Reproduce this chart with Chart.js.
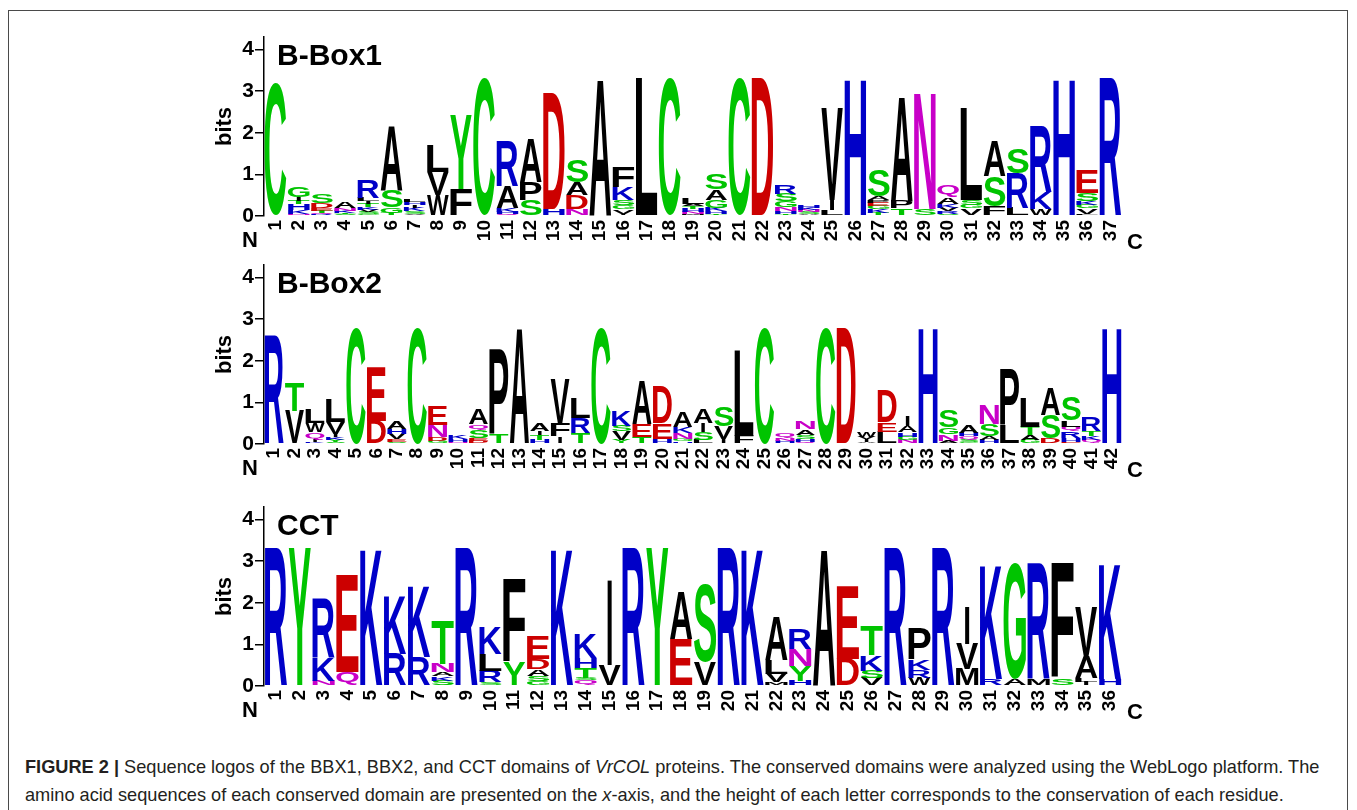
<!DOCTYPE html>
<html>
<head>
<meta charset="utf-8">
<script src="https://cdn.jsdelivr.net/npm/chart.js@4.4.1/dist/chart.umd.min.js"></script>
<style>
    body { margin: 0; background: #fff; width: 1357px; height: 810px; overflow: hidden; position: relative; font-family: "Liberation Sans", Arial, sans-serif; }
    .frame { position: absolute; left: 8px; top: 10px; width: 1338px; height: 900px; border: 1.5px solid #4a4a4a; }
    .panel { position: absolute; left: 210px; }
    .caption { position: absolute; left: 25px; top: 753px; font-size: 18.2px; line-height: 28px; color: #231f20; white-space: nowrap; }
    .caption b { font-weight: bold; }
</style>
</head>
<body>
<div class="frame"></div>
<div class="panel" style="top:20px"><canvas id="box1Chart" width="970" height="236"></canvas></div>
<div class="panel" style="top:248px"><canvas id="box2Chart" width="970" height="236"></canvas></div>
<div class="panel" style="top:490px"><canvas id="cctChart" width="970" height="236"></canvas></div>
<div class="caption">
    <b>FIGURE 2 |</b> Sequence logos of the BBX1, BBX2, and CCT domains of <i>VrCOL</i> proteins. The conserved domains were analyzed using the WebLogo platform. The<br>
    amino acid sequences of each conserved domain are presented on the <i>x</i>-axis, and the height of each letter corresponds to the conservation of each residue.
</div>
<script>
// stack tiap posisi: huruf + tinggi (bits), dari bawah ke atas
const box1Stacks = [
    'C3.2', 'N.06 K.08 H.14 T.08 I.1 G.26', 'R.04 Q.04 T.05 E.06 D.12 S.22', 'S.04 T.04 K.05 N.06 A.14',
    'G.04 S.05 V.06 K.06 T.08 I.06 L.08 R.42', 'T.08 G.12 S.42 A1.55', 'V.05 S.07 K.08 I.06 H.07 L.07',
    'W.5 V.55 L.65', 'F.65 Y1.78', 'C3.3', 'Q.04 H.06 K.1 A.52 R1.08', 'S.38 P.44 A1.06', 'H.17 D2.8',
    'N.18 D.32 A.32 S.54', 'A3.3', 'I.06 V.1 G.1 S.12 K.3 F.5', 'L3.3', 'C3.3', 'M.04 N.06 H.08 T.06 A.06 L.14',
    'T.06 H.06 K.08 G.18 A.26 S.38', 'C3.3', 'D3.3', 'T.05 H.06 N.1 G.14 S.18 R.2', 'A.04 S.05 N.05 K.06 H.06',
    'L.14 I.24 V2.22', 'H3.3', 'T.08 K.08 G.08 E.08 P.06 A.08 S.62', 'T.18 P.18 A2.54', 'S.18 N2.8',
    'S.05 R.07 V.08 K.1 A.16 Q.26', 'V.18 G.08 S.12 L2.2', 'F.24 S.72 A.84', 'L.2 R.82 S.6', 'W.18 K.4 R1.6',
    'H3.3', 'L.06 V.12 G.08 K.1 S.2 E.54', 'R3.3'
]
const box2Stacks = [
    'R2.6', 'V.8 T.68', 'K.05 I.07 Q.16 W.22 L.34', 'S.04 Y.06 K.06 I.08 V.28 L.56', 'C2.8', 'D.56 E1.3',
    'S.05 E.06 V.14 H.12 A.18', 'C2.8', 'G.08 D.1 N.28 E.46', 'N.05 H.06 K.1', 'D.07 E.07 S.2 Q.13 A.37',
    'T.22 P2.05', 'A2.8', 'H.1 T.12 I.1 A.18', 'I.18 F.3 V1.06', 'T.26 R.37 L.5', 'C2.8', 'Y.1 V.2 S.14 K.38',
    'T.18 E.3 A1.06', 'H.12 E.38 D.88', 'H.06 G.05 N.16 K.14 A.38', 'L.1 S.2 I.2 A.34', 'I.12 V.3 S.46',
    'F.2 L2.07', 'C2.8', 'H.08 N.07 Q.12', 'Q.06 H.06 S.1 A.13 N.18', 'C2.8', 'D2.8', 'A.05 I.06 V.06 W.12',
    'L.3 E.22 D.78', 'N.1 G.08 H.1 A.16 I.24', 'H2.8', 'A.08 N.16 G.16 S.42', 'G.05 S.06 Q.08 H.08 A.18',
    'H.1 A.1 S.28 N.46', 'L.45 P1.34', 'G.1 A.12 T.2 L.7', 'D.14 S.56 A.66', 'E.06 H.08 R.16 Q.12 L.16 S.58',
    'Q.1 K.1 T.12 R.34', 'H2.8'
]
const cctStacks = [
    'R3.3', 'Y3.3', 'N.13 K.56 R1.42', 'Q.33 E2.35', 'K3.3', 'R.77 K1.4', 'R.7 K1.7', 'S.13 K.1 A.1 N.2 T1.05',
    'R3.3', 'S.09 R.28 L.4 K.65', 'Y.56 F2.0', 'G.12 S.13 A.16 D.24 E.56', 'K3.3', 'Q.14 S.05 T.24 H.25 K.6',
    'V.5 I2.06', 'R3.3', 'Y3.3', 'E1.12 A1.16', 'V.57 S1.88', 'R3.3', 'K3.3', 'M.09 V.2 L.34 A1.05',
    'H.13 Y.36 N.4 R.48', 'A3.3', 'D.65 E1.75', 'V.19 S.18 K.37 T.7', 'R3.3', 'W.2 R.18 K.25 P.73', 'R3.3',
    'M.41 V.6 I.9', 'R.17 K2.76', 'A.17 G2.78', 'M.17 R2.78', 'S.17 F2.78', 'I.1 L.1 A.52 V1.18', 'H.17 K2.78'
]
const panelTitles = ['B-Box1', 'B-Box2', 'CCT']
const yTicks = [0, 1, 2, 3, 4]

// warna skema "chemistry" WebLogo
const letterColors = {
    G: '#00c400', S: '#00c400', T: '#00c400', Y: '#00c400', C: '#00c400',
    N: '#c800c8', Q: '#c800c8',
    K: '#0000c8', R: '#0000c8', H: '#0000c8',
    D: '#cc0000', E: '#cc0000'
}
const LOGO_FONT = '"Liberation Sans", Arial, sans-serif'

function parseStack(s) {
    return s.split(' ').map((t) => ({ ch: t[0], h: parseFloat(t.slice(1)) }))
}

function buildDatasets(stacks) {
    const parsed = stacks.map(parseStack)
    const layers = Math.max(...parsed.map((p) => p.length))
    const sets = []
    for (let k = 0; k < layers; k++) {
        sets.push({
            data: parsed.map((p) => (p[k] ? p[k].h : 0)),
            letters: parsed.map((p) => (p[k] ? p[k].ch : '')),
            backgroundColor: 'rgba(0,0,0,0)',
            borderWidth: 0,
            categoryPercentage: 1,
            barPercentage: 0.94
        })
    }
    return sets
}

function drawLetter(ctx, ch, x0, yTop, w, h) {
    ctx.save()
    ctx.font = 'bold 100px ' + LOGO_FONT
    const m = ctx.measureText(ch)
    const gl = m.actualBoundingBoxLeft
    const gw = gl + m.actualBoundingBoxRight
    const ga = m.actualBoundingBoxAscent
    const gh = ga + m.actualBoundingBoxDescent
    let ww = w
    let xx = x0
    if (ch === 'I') {
        ww = w * 0.2
        xx = x0 + (w - ww) / 2
    }
    ctx.translate(xx, yTop)
    ctx.scale(ww / gw, h / gh)
    ctx.fillStyle = letterColors[ch] || '#000'
    ctx.textAlign = 'left'
    ctx.textBaseline = 'alphabetic'
    ctx.fillText(ch, gl, ga)
    ctx.restore()
}

// plugin: huruf logo + judul panel + label N / C
const logoPlugin = {
    id: 'logoLetters',
    afterDatasetsDraw(chart) {
        const ctx = chart.ctx
        chart.data.datasets.forEach((ds, i) => {
            chart.getDatasetMeta(i).data.forEach((bar, j) => {
                const ch = ds.letters[j]
                if (!ch) return
                const { x, y, base, width } = bar.getProps(['x', 'y', 'base', 'width'], true)
                const h = base - y
                if (h < 0.4) return
                drawLetter(ctx, ch, x - width / 2, y, width, h)
            })
        })
    },
    afterDraw(chart, args, opts) {
        const ctx = chart.ctx
        const a = chart.chartArea
        ctx.save()
        ctx.fillStyle = '#000'
        ctx.font = 'bold 30px ' + LOGO_FONT
        ctx.textBaseline = 'top'
        ctx.textAlign = 'left'
        ctx.fillText(opts.title, a.left + 13, a.top + 5)
        ctx.font = 'bold 22px ' + LOGO_FONT
        ctx.textAlign = 'center'
        ctx.textBaseline = 'middle'
        ctx.fillText('N', a.left - 14, a.bottom + 25)
        ctx.fillText('C', a.right + 13, a.bottom + 27)
        ctx.restore()
    }
}

function makeLogo(id, stacks, title) {
    const el = document.getElementById(id)
    if (!el) return null
    return new Chart(el, {
        type: 'bar',
        data: {
            labels: stacks.map((_, i) => String(i + 1)),
            datasets: buildDatasets(stacks)
        },
        plugins: [logoPlugin],
        options: {
            responsive: false,
            animation: false,
            layout: { padding: { top: 17, right: 58, left: 0, bottom: 0 } },
            plugins: {
                legend: { display: false },
                tooltip: { enabled: false },
                logoLetters: { title: title }
            },
            scales: {
                x: {
                    stacked: true,
                    grid: { display: false, drawTicks: false },
                    border: { display: false },
                    ticks: {
                        autoSkip: false,
                        minRotation: 90,
                        maxRotation: 90,
                        padding: 4,
                        color: '#000',
                        font: { family: LOGO_FONT, size: 19, weight: 'bold' }
                    },
                    afterFit: (s) => { s.height = 40 }
                },
                y: {
                    stacked: true,
                    min: 0,
                    max: 4.3,
                    afterBuildTicks: (s) => {
                        s.ticks = yTicks.map((v) => ({ value: v }))
                    },
                    afterFit: (s) => { s.width = 54 },
                    grid: { drawOnChartArea: false, drawTicks: true, tickLength: 9, color: '#000', lineWidth: 1.5 },
                    border: { display: true, color: '#000', width: 1.5 },
                    ticks: {
                        padding: 1,
                        color: '#000',
                        font: { family: LOGO_FONT, size: 21, weight: 'bold' }
                    },
                    title: {
                        display: true,
                        text: 'bits',
                        color: '#000',
                        padding: { top: 2, bottom: 0 },
                        font: { family: LOGO_FONT, size: 22, weight: 'bold' }
                    }
                }
            }
        }
    })
}

document.addEventListener('DOMContentLoaded', () => {
    makeLogo('box1Chart', box1Stacks, panelTitles[0])
    makeLogo('box2Chart', box2Stacks, panelTitles[1])
    makeLogo('cctChart', cctStacks, panelTitles[2])
})
</script>
</body>
</html>
